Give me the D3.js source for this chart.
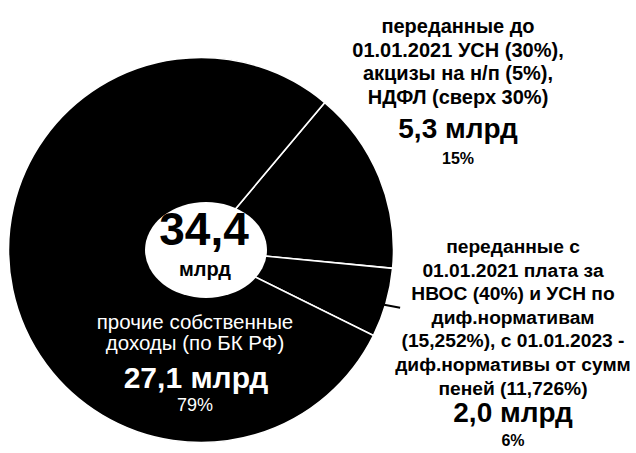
<!DOCTYPE html>
<html lang="ru">
<head>
<meta charset="UTF-8">
<title>Доходы</title>
<script src="https://cdn.jsdelivr.net/npm/d3@7"></script>
<style>
  body { margin: 0; background: #fff; }
  text { font-family: "Liberation Sans", Arial, sans-serif; }
</style>
</head>
<body>
<div id="chart"></div>
<script>
// data
const names = ["переданные до 2021", "переданные с 2021", "прочие собственные"];
const values = [5.3, 2.0, 27.1];
const amountLabels = ["5,3 млрд", "2,0 млрд", "27,1 млрд"];
const shareLabels = ["15%", "6%", "79%"];
const totalLabel = "34,4";
const totalUnit = "млрд";
const topText = ["переданные до", "01.01.2021 УСН (30%),", "акцизы на н/п (5%),", "НДФЛ (сверх 30%)"];
const bottomText = ["переданные с", "01.01.2021 плата за", "НВОС (40%) и УСН по", "диф.нормативам",
    "(15,252%), с 01.01.2023 -", "диф.нормативы от сумм", "пеней (11,726%)"];
const otherText = ["прочие собственные", "доходы (по БК РФ)"];

const width = 636, height = 453;
const cx = 201, cy = 250, R = 192.5;

const svg = d3.select("#chart").append("svg")
    .attr("width", width)
    .attr("height", height);

const start = 40 * Math.PI / 180;
const pie = d3.pie().sort(null).value(d => d)
    .startAngle(start).endAngle(start + 2 * Math.PI);
const arc = d3.arc().innerRadius(0).outerRadius(R);

const g = svg.append("g").attr("transform", `translate(${cx},${cy})`);
const arcs = pie(values);

g.selectAll("path")
    .data(arcs)
    .enter()
    .append("path")
    .attr("d", arc)
    .attr("fill", "#000")
    .attr("stroke", "#fff")
    .attr("stroke-width", 1.6);

// white hole with total
g.append("ellipse")
    .attr("cx", 5).attr("cy", 0)
    .attr("rx", 61).attr("ry", 48)
    .attr("fill", "#fff");

g.append("text")
    .attr("x", 3).attr("y", -5)
    .attr("text-anchor", "middle")
    .attr("font-size", 46).attr("font-weight", "bold")
    .text(totalLabel);
g.append("text")
    .attr("x", 4).attr("y", 26)
    .attr("text-anchor", "middle")
    .attr("font-size", 20).attr("font-weight", "bold")
    .text(totalUnit);

// leader for small slice
const mid = (arcs[1].startAngle + arcs[1].endAngle) / 2;
const lx = Math.sin(mid) * R, ly = -Math.cos(mid) * R;
g.append("line")
    .attr("x1", lx - 2).attr("y1", ly + 2)
    .attr("x2", lx + 14).attr("y2", ly + 5)
    .attr("stroke", "#000").attr("stroke-width", 2);

// right labels
function block(x, y0, lines, step, fs, amount, share, ay, sy) {
    const t = svg.append("g");
    lines.forEach((s, i) => {
        t.append("text")
            .attr("x", x).attr("y", y0 + i * step)
            .attr("text-anchor", "middle")
            .attr("font-size", fs).attr("font-weight", "bold")
            .text(s);
    });
    t.append("text")
        .attr("x", x).attr("y", ay)
        .attr("text-anchor", "middle")
        .attr("font-size", 28).attr("font-weight", "bold")
        .text(amount);
    t.append("text")
        .attr("x", x).attr("y", sy)
        .attr("text-anchor", "middle")
        .attr("font-size", 16).attr("font-weight", "bold")
        .text(share);
}
block(458, 33, topText, 23.7, 20, amountLabels[0], shareLabels[0], 138, 164);
block(513, 253, bottomText, 23.6, 19.2, amountLabels[1], shareLabels[1], 422, 446);

// label inside big slice
otherText.forEach((s, i) => {
    svg.append("text")
        .attr("x", 195).attr("y", 329 + i * 21)
        .attr("text-anchor", "middle")
        .attr("font-size", 20.5).attr("fill", "#fff")
        .text(s);
});
svg.append("text")
    .attr("x", 196).attr("y", 388)
    .attr("text-anchor", "middle")
    .attr("font-size", 30).attr("font-weight", "bold").attr("fill", "#fff")
    .text(amountLabels[2]);
svg.append("text")
    .attr("x", 195).attr("y", 411)
    .attr("text-anchor", "middle")
    .attr("font-size", 18).attr("fill", "#fff")
    .text(shareLabels[2]);
</script>
</body>
</html>
